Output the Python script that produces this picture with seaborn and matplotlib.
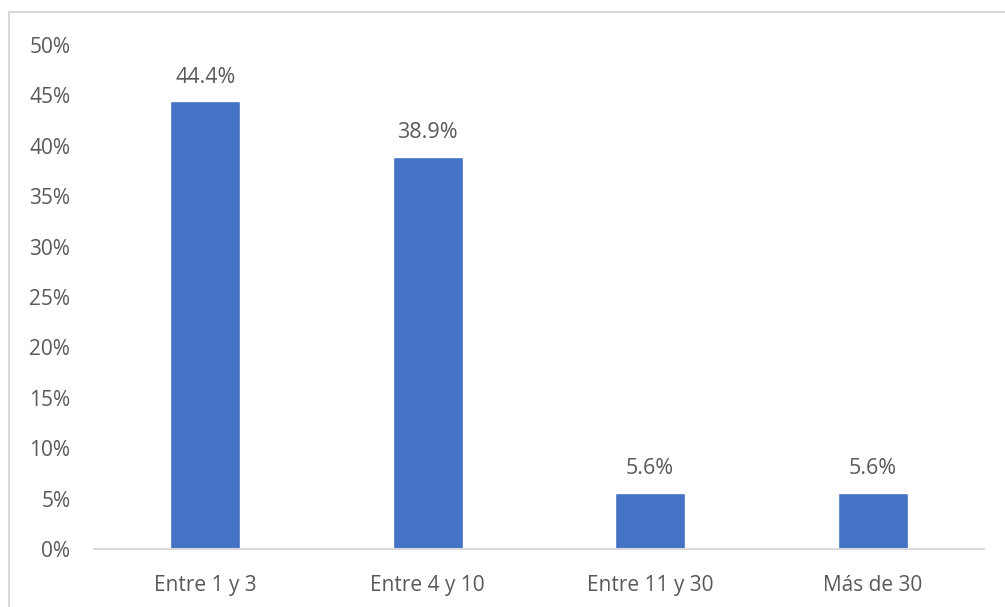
import pandas as pd
import numpy as np
import matplotlib.pyplot as plt
import seaborn as sns
from matplotlib.patches import Rectangle
from matplotlib.ticker import PercentFormatter

# datos
categorias = ['Entre 1 y 3', 'Entre 4 y 10', 'Entre 11 y 30', 'Más de 30']
porcentajes = [0.444, 0.389, 0.056, 0.056]
etiquetas = ['44.4%', '38.9%', '5.6%', '5.6%']

df = pd.DataFrame({'categoria': categorias, 'porcentaje': porcentajes})

sns.set_style('white')
plt.rcParams['font.family'] = ['Open Sans', 'DejaVu Sans']

gris = '#595959'
fig = plt.figure(figsize=(10.05, 6.07), dpi=100)
ax = fig.add_axes([0.0935, 0.0956, 0.8855, 0.8302])

sns.barplot(data=df, x='categoria', y='porcentaje', color='#4472C4',
            saturation=1, width=0.315, ax=ax)

# etiquetas de datos
for i, p in enumerate(ax.patches):
    ax.annotate(etiquetas[i], (p.get_x() + p.get_width() / 2, p.get_height()),
                xytext=(0, 10), textcoords='offset points',
                ha='center', va='bottom', fontsize=15.5, color=gris)

ax.set_ylim(0, 0.5)
ax.set_xlim(-0.5, 3.5)
ax.set_yticks(np.arange(0, 0.51, 0.05))
ax.yaxis.set_major_formatter(PercentFormatter(1.0, decimals=0))
ax.tick_params(axis='y', labelsize=15, labelcolor=gris, length=0, pad=17)
ax.tick_params(axis='x', labelsize=15, labelcolor=gris, length=0, pad=19)
ax.set_xlabel('')
ax.set_ylabel('')
for s in ['top', 'right', 'left']:
    ax.spines[s].set_visible(False)
ax.spines['bottom'].set_color('#D9D9D9')
ax.spines['bottom'].set_linewidth(1.5)

# borde del grafico
fig.patches.append(Rectangle((9 / 1005, -0.1), 1.2, 1 - 12 / 607 + 0.1,
                             transform=fig.transFigure, fill=False,
                             edgecolor='#D9D9D9', linewidth=1.5))

fig.savefig('out.png', dpi=100)
